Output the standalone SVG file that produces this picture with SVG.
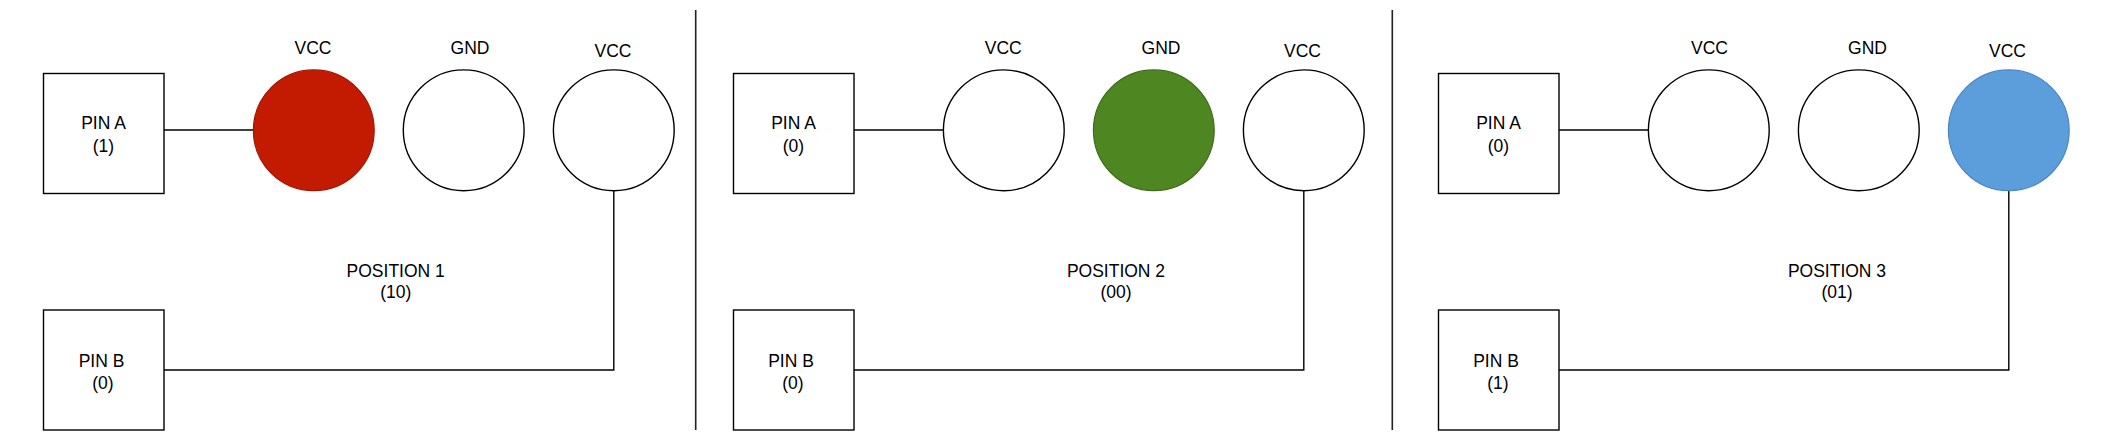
<svg xmlns="http://www.w3.org/2000/svg" width="2110" height="441" viewBox="0 0 2110 441">
<style>
  .bg{fill:#ffffff}
  .box{fill:#ffffff;stroke:#000000;stroke-width:1.4}
  .pin{fill:#ffffff;stroke:#000000;stroke-width:1.4}
  .red{fill:#C21B01;stroke:#A31500;stroke-width:1.2}
  .green{fill:#4E8722;stroke:#3D6B1A;stroke-width:1.2}
  .blue{fill:#5C9EDC;stroke:#4A86C2;stroke-width:1.2}
  .wire{fill:none;stroke:#000000;stroke-width:1.4}
  .div{fill:none;stroke:#222222;stroke-width:1.6}
  text{font-family:"Liberation Sans",Arial,Helvetica,sans-serif;font-size:17.5px;fill:#000000;text-anchor:middle}
</style>
<rect class="bg" x="0" y="0" width="2110" height="441"/>

<g id="connectors">
  <line class="wire" x1="164" y1="130" x2="253.3" y2="130"/>
  <polyline class="wire" points="613.8,190.6 613.8,370 164,370"/>
  <line class="wire" x1="854" y1="130" x2="943.3" y2="130"/>
  <polyline class="wire" points="1303.8,190.6 1303.8,370 854,370"/>
  <line class="wire" x1="1559" y1="130" x2="1648.3" y2="130"/>
  <polyline class="wire" points="2008.8,190.6 2008.8,370 1559,370"/>
</g>

<g id="dividers">
  <line class="div" x1="695.7" y1="10" x2="695.7" y2="430"/>
  <line class="div" x1="1392.3" y1="10" x2="1392.3" y2="430"/>
</g>

<!-- Panel 1 -->
<g id="p1-pinA"><rect class="box" x="43.5" y="73.5" width="120.5" height="120"/><text x="103.5" y="129">PIN A</text><text x="103.5" y="152">(1)</text></g>
<g id="p1-pinB"><rect class="box" x="43.5" y="310" width="120.5" height="120"/><text x="101.5" y="366.5">PIN B</text><text x="103" y="389">(0)</text></g>
<g id="p1-vcc1"><circle class="red" cx="313.8" cy="130.3" r="60.4"/><text x="313" y="53.5">VCC</text></g>
<g id="p1-gnd"><circle class="pin" cx="463.7" cy="130.3" r="60.4"/><text x="470" y="53.5">GND</text></g>
<g id="p1-vcc2"><circle class="pin" cx="613.8" cy="130.3" r="60.4"/><text x="613" y="56.5">VCC</text></g>
<g id="p1-label"><text x="395.7" y="276.5">POSITION 1</text><text x="395.7" y="298">(10)</text></g>

<!-- Panel 2 -->
<g id="p2-pinA"><rect class="box" x="733.5" y="73.5" width="120.5" height="120"/><text x="793.5" y="129">PIN A</text><text x="793.5" y="152">(0)</text></g>
<g id="p2-pinB"><rect class="box" x="733.5" y="310" width="120.5" height="120"/><text x="791" y="366.5">PIN B</text><text x="793" y="389">(0)</text></g>
<g id="p2-vcc1"><circle class="pin" cx="1003.8" cy="130.3" r="60.4"/><text x="1003.3" y="53.5">VCC</text></g>
<g id="p2-gnd"><circle class="green" cx="1153.8" cy="130.3" r="60.4"/><text x="1161" y="53.5">GND</text></g>
<g id="p2-vcc2"><circle class="pin" cx="1303.8" cy="130.3" r="60.4"/><text x="1302.5" y="56.5">VCC</text></g>
<g id="p2-label"><text x="1116" y="276.5">POSITION 2</text><text x="1116" y="298">(00)</text></g>

<!-- Panel 3 -->
<g id="p3-pinA"><rect class="box" x="1438.5" y="73.5" width="120.5" height="120"/><text x="1498.5" y="129">PIN A</text><text x="1498.5" y="152">(0)</text></g>
<g id="p3-pinB"><rect class="box" x="1438.5" y="310" width="120.5" height="120"/><text x="1496" y="366.5">PIN B</text><text x="1498" y="389">(1)</text></g>
<g id="p3-vcc1"><circle class="pin" cx="1708.8" cy="130.3" r="60.4"/><text x="1709.5" y="53.5">VCC</text></g>
<g id="p3-gnd"><circle class="pin" cx="1858.8" cy="130.3" r="60.4"/><text x="1867.5" y="53.5">GND</text></g>
<g id="p3-vcc2"><circle class="blue" cx="2008.8" cy="130.3" r="60.4"/><text x="2007.5" y="56.5">VCC</text></g>
<g id="p3-label"><text x="1837" y="276.5">POSITION 3</text><text x="1837" y="298">(01)</text></g>
</svg>
